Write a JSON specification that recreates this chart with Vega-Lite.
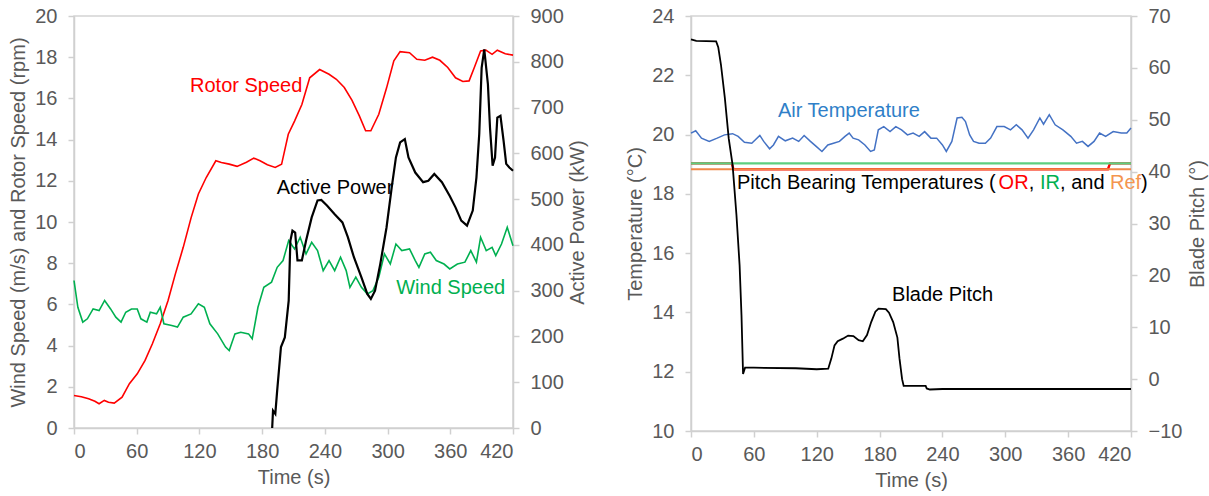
{
  "$schema": "https://vega.github.io/schema/vega-lite/v6.json",
  "background": "white",
  "padding": {"left": 8, "top": 5, "right": 2, "bottom": 0},
  "spacing": 36,
  "config": {
    "view": {"stroke": "#d4d4d4", "strokeWidth": 1.5},
    "axis": {
      "domainColor": "#d0d0d0", "domainWidth": 1.5,
      "tickColor": "#d0d0d0", "tickWidth": 1.5, "tickSize": 6,
      "labelColor": "#595959", "labelFont": "Liberation Sans", "labelFontSize": 20,
      "titleColor": "#595959", "titleFont": "Liberation Sans", "titleFontSize": 20,
      "titleFontWeight": "normal", "grid": false, "labelPadding": 11, "titlePadding": 6
    },
    "text": {"font": "Liberation Sans", "fontSize": 20, "align": "left", "baseline": "middle"}
  },
  "datasets": {
    "rotor": [
      {"t":0,"v":1.58},{"t":7,"v":1.52},{"t":14,"v":1.42},{"t":20,"v":1.3},{"t":24,"v":1.18},{"t":29,"v":1.34},{"t":33,"v":1.25},{"t":38.5,"v":1.21},{"t":46,"v":1.5},{"t":53,"v":2.15},{"t":60.5,"v":2.63},{"t":68,"v":3.28},{"t":75,"v":4.09},{"t":82.5,"v":5.06},{"t":90,"v":6.19},{"t":97,"v":7.48},{"t":104.5,"v":8.77},{"t":112,"v":10.2},{"t":119,"v":11.36},{"t":126.5,"v":12.16},{"t":135.7,"v":12.97},{"t":141,"v":12.89},{"t":148.5,"v":12.81},{"t":156,"v":12.7},{"t":165,"v":12.9},{"t":172,"v":13.1},{"t":178,"v":12.97},{"t":185,"v":12.78},{"t":192.5,"v":12.65},{"t":198.6,"v":12.8},{"t":205,"v":14.26},{"t":211,"v":14.9},{"t":218,"v":15.7},{"t":225.5,"v":17.0},{"t":235,"v":17.4},{"t":244,"v":17.17},{"t":251,"v":16.93},{"t":258.6,"v":16.53},{"t":266,"v":15.9},{"t":273,"v":15.15},{"t":279,"v":14.43},{"t":284,"v":14.43},{"t":291.6,"v":15.23},{"t":299,"v":16.5},{"t":306,"v":17.82},{"t":312,"v":18.27},{"t":321,"v":18.22},{"t":328,"v":17.9},{"t":335.6,"v":17.85},{"t":343,"v":18.0},{"t":350,"v":17.85},{"t":357.6,"v":17.5},{"t":365,"v":17.0},{"t":372,"v":16.82},{"t":378,"v":16.85},{"t":383,"v":17.5},{"t":389,"v":18.3},{"t":394,"v":18.34},{"t":400,"v":18.14},{"t":405,"v":18.34},{"t":412.6,"v":18.17},{"t":420,"v":18.1}
    ],
    "wind": [
      {"t":0,"v":7.16},{"t":3.7,"v":5.86},{"t":8.4,"v":5.14},{"t":12.8,"v":5.3},{"t":18.3,"v":5.78},{"t":24,"v":5.7},{"t":29.3,"v":6.19},{"t":35,"v":5.78},{"t":40,"v":5.38},{"t":45,"v":5.14},{"t":49.5,"v":5.62},{"t":55,"v":5.78},{"t":60.5,"v":5.78},{"t":64,"v":5.3},{"t":69.7,"v":5.14},{"t":73,"v":5.62},{"t":79,"v":5.54},{"t":82.5,"v":5.86},{"t":86,"v":5.06},{"t":93.5,"v":4.98},{"t":99,"v":4.9},{"t":104.5,"v":5.38},{"t":112,"v":5.54},{"t":119,"v":6.03},{"t":124.7,"v":5.86},{"t":130,"v":5.06},{"t":137.5,"v":4.57},{"t":145,"v":3.93},{"t":148.5,"v":3.76},{"t":154,"v":4.57},{"t":159.5,"v":4.65},{"t":167,"v":4.57},{"t":170.5,"v":4.33},{"t":176,"v":5.86},{"t":181.6,"v":6.83},{"t":189,"v":7.08},{"t":194.4,"v":7.8},{"t":200,"v":8.13},{"t":205.4,"v":9.1},{"t":211,"v":8.69},{"t":216.4,"v":9.26},{"t":222,"v":8.45},{"t":227.4,"v":9.01},{"t":233,"v":8.61},{"t":238.4,"v":7.64},{"t":244,"v":8.13},{"t":249.4,"v":7.64},{"t":255,"v":8.29},{"t":260.4,"v":7.64},{"t":264,"v":6.83},{"t":269.6,"v":7.32},{"t":275,"v":6.83},{"t":280.6,"v":6.51},{"t":286,"v":6.67},{"t":291.6,"v":7.32},{"t":297,"v":8.45},{"t":302.6,"v":7.96},{"t":308,"v":8.93},{"t":313.6,"v":8.61},{"t":321,"v":8.69},{"t":326.5,"v":8.13},{"t":330,"v":7.8},{"t":335.6,"v":8.45},{"t":341,"v":8.53},{"t":346.6,"v":8.13},{"t":354,"v":7.96},{"t":359.5,"v":7.72},{"t":366.8,"v":7.96},{"t":374,"v":8.05},{"t":379.6,"v":8.61},{"t":385,"v":8.05},{"t":389,"v":9.26},{"t":394.4,"v":8.61},{"t":400,"v":8.77},{"t":403.5,"v":8.37},{"t":409,"v":8.93},{"t":414.5,"v":9.74},{"t":420,"v":8.85}
    ],
    "power": [
      {"t":189.6,"v":0},{"t":190.4,"v":38},{"t":192.6,"v":31},{"t":194.4,"v":82},{"t":198,"v":177},{"t":201.7,"v":198},{"t":205.4,"v":278},{"t":207,"v":409},{"t":209,"v":431},{"t":211.6,"v":427},{"t":213.8,"v":366},{"t":218,"v":366},{"t":222,"v":409},{"t":227.4,"v":460},{"t":233,"v":497},{"t":236.6,"v":498},{"t":242,"v":486},{"t":249.4,"v":467},{"t":256.8,"v":449},{"t":262,"v":417},{"t":267.8,"v":373},{"t":275,"v":329},{"t":280.6,"v":293},{"t":284,"v":282},{"t":288,"v":300},{"t":293,"v":358},{"t":299,"v":438},{"t":304,"v":526},{"t":308,"v":591},{"t":312,"v":624},{"t":316.5,"v":631},{"t":320,"v":591},{"t":326.5,"v":558},{"t":334,"v":537},{"t":339,"v":540},{"t":344.7,"v":555},{"t":352,"v":537},{"t":359.5,"v":507},{"t":365,"v":482},{"t":370.5,"v":453},{"t":376,"v":442},{"t":381.5,"v":475},{"t":385,"v":547},{"t":387.7,"v":642},{"t":390,"v":787},{"t":392.5,"v":827},{"t":396,"v":751},{"t":398,"v":656},{"t":400.5,"v":573},{"t":402.8,"v":591},{"t":405,"v":678},{"t":408,"v":682},{"t":411,"v":627},{"t":413.5,"v":577},{"t":416.5,"v":569},{"t":420,"v":562}
    ],
    "leftLabels": [
      {"t":111,"v":16.6,"label":"Rotor Speed","series":"rotor"},
      {"t":193.9,"v":11.66,"label":"Active Power","series":"power"},
      {"t":308.3,"v":6.82,"label":"Wind Speed","series":"wind"}
    ],
    "air": [
      {"t":0,"v":20.05},{"t":4.5,"v":20.13},{"t":10,"v":19.88},{"t":17.4,"v":19.77},{"t":25,"v":19.88},{"t":32,"v":19.99},{"t":39.7,"v":20.03},{"t":45,"v":19.94},{"t":51,"v":19.74},{"t":58,"v":19.71},{"t":65.7,"v":19.97},{"t":69.4,"v":19.77},{"t":75,"v":19.52},{"t":78.7,"v":19.65},{"t":83.5,"v":19.94},{"t":90,"v":19.79},{"t":97,"v":19.88},{"t":102.8,"v":19.77},{"t":108,"v":19.97},{"t":114,"v":19.77},{"t":119.5,"v":19.6},{"t":125,"v":19.43},{"t":130.6,"v":19.65},{"t":136,"v":19.71},{"t":141.7,"v":19.77},{"t":147,"v":19.94},{"t":151,"v":20.05},{"t":154.7,"v":19.88},{"t":160,"v":19.82},{"t":166,"v":19.65},{"t":171.4,"v":19.43},{"t":175,"v":19.48},{"t":178.8,"v":20.16},{"t":184,"v":20.27},{"t":190,"v":20.1},{"t":195.5,"v":20.27},{"t":201,"v":20.16},{"t":206.6,"v":19.99},{"t":212,"v":20.05},{"t":217.8,"v":19.94},{"t":223,"v":20.1},{"t":229,"v":19.88},{"t":234.5,"v":19.88},{"t":240,"v":19.65},{"t":243.7,"v":19.43},{"t":249,"v":19.77},{"t":254,"v":20.56},{"t":258.6,"v":20.58},{"t":262,"v":20.44},{"t":266,"v":19.99},{"t":269.7,"v":19.77},{"t":275,"v":19.71},{"t":281,"v":19.71},{"t":286,"v":19.88},{"t":292,"v":20.27},{"t":299,"v":20.27},{"t":305,"v":20.16},{"t":310.5,"v":20.33},{"t":316,"v":20.16},{"t":321.7,"v":19.88},{"t":327,"v":20.16},{"t":333,"v":20.56},{"t":336.5,"v":20.35},{"t":342,"v":20.67},{"t":347.6,"v":20.33},{"t":355,"v":20.16},{"t":362.5,"v":19.94},{"t":368,"v":19.71},{"t":373.6,"v":19.77},{"t":379,"v":19.6},{"t":384.7,"v":19.77},{"t":390,"v":20.05},{"t":395.8,"v":19.94},{"t":403,"v":20.1},{"t":410.7,"v":20.05},{"t":416,"v":20.05},{"t":420,"v":20.22}
    ],
    "bearingOR": [
      {"t":0,"v":19.03},{"t":39,"v":19.03},{"t":40.5,"v":18.83},{"t":398,"v":18.83},{"t":400,"v":19.03},{"t":420,"v":19.03}
    ],
    "bearingIR": [
      {"t":0,"v":19.03},{"t":420,"v":19.03}
    ],
    "bearingRef": [
      {"t":0,"v":18.83},{"t":420,"v":18.83}
    ],
    "pitch": [
      {"t":0,"v":65.5},{"t":5,"v":65.2},{"t":24,"v":65.1},{"t":26,"v":64},{"t":28.6,"v":60.6},{"t":32.3,"v":54.2},{"t":36,"v":46.4},{"t":39.7,"v":41.3},{"t":43.4,"v":31.6},{"t":46.4,"v":21.9},{"t":48.2,"v":12.3},{"t":49.7,"v":1.0},{"t":51.6,"v":2.2},{"t":60,"v":2.2},{"t":100,"v":2.1},{"t":120,"v":1.9},{"t":131,"v":2.0},{"t":134,"v":4},{"t":137,"v":6.5},{"t":140,"v":7.3},{"t":145,"v":7.8},{"t":150,"v":8.4},{"t":155,"v":8.3},{"t":160,"v":7.5},{"t":164,"v":7.3},{"t":168,"v":8.5},{"t":172,"v":11},{"t":176,"v":13},{"t":179,"v":13.6},{"t":186,"v":13.5},{"t":189,"v":12.8},{"t":193,"v":11},{"t":197,"v":8},{"t":199,"v":4},{"t":201.5,"v":0},{"t":203,"v":-1.3},{"t":215,"v":-1.3},{"t":224,"v":-1.3},{"t":225,"v":-1.8},{"t":228,"v":-2.0},{"t":240,"v":-1.9},{"t":420,"v":-1.9}
    ],
    "rightLabels": [
      {"t":83,"v":20.79,"label":"Air Temperature","series":"air"},
      {"t":191.9,"v":14.6,"label":"Blade Pitch","series":"black"},
      {"t":43.9,"v":18.36,"label":"Pitch Bearing Temperatures (","series":"black"},
      {"t":293.6,"v":18.36,"label":"OR","series":"or"},
      {"t":322.4,"v":18.36,"label":", ","series":"black"},
      {"t":333.2,"v":18.36,"label":"IR","series":"ir"},
      {"t":352.3,"v":18.36,"label":", and ","series":"black"},
      {"t":400.0,"v":18.36,"label":"Ref","series":"ref"},
      {"t":429.6,"v":18.36,"label":")","series":"black"}
    ]
  },
  "hconcat": [
    {
      "width": 439,
      "height": 412,
      "layer": [
        {
          "encoding": {
            "x": {"field": "t", "type": "quantitative", "scale": {"domain": [0, 420], "nice": false},
                  "axis": {"title": "Time (s)", "values": [0,60,120,180,240,300,360,420], "labelPadding": 7, "titlePadding": 6}},
            "y": {"field": "v", "type": "quantitative", "scale": {"domain": [0, 20], "nice": false},
                  "axis": {"title": "Wind Speed (m/s) and Rotor Speed (rpm)", "values": [0,2,4,6,8,10,12,14,16,18,20]}}
          },
          "layer": [
            {"data": {"name": "rotor"}, "mark": {"type": "line", "color": "#ff0000", "strokeWidth": 1.6}},
            {"data": {"name": "wind"}, "mark": {"type": "line", "color": "#00b050", "strokeWidth": 1.6}},
            {"data": {"name": "leftLabels"}, "mark": {"type": "text"},
             "encoding": {"text": {"field": "label"},
                          "color": {"field": "series", "type": "nominal", "legend": null,
                                    "scale": {"domain": ["rotor","power","wind"], "range": ["#ff0000","#000000","#00b050"]}}}}
          ]
        },
        {
          "layer": [
            {"data": {"name": "power"}, "mark": {"type": "line", "color": "#000000", "strokeWidth": 2.2},
             "encoding": {
               "x": {"field": "t", "type": "quantitative", "scale": {"domain": [0, 420], "nice": false}, "axis": {"title": "Time (s)", "values": [0,60,120,180,240,300,360,420], "labelPadding": 7, "titlePadding": 6}},
               "y": {"field": "v", "type": "quantitative", "scale": {"domain": [0, 900], "nice": false},
                     "axis": {"title": "Active Power (kW)", "orient": "right", "values": [0,100,200,300,400,500,600,700,800,900], "titleAngle": 270, "titleBaseline": "top", "titlePadding": 4}}
             }}
          ]
        }
      ],
      "resolve": {"scale": {"y": "independent", "color": "independent"}}
    },
    {
      "width": 440,
      "height": 415,
      "layer": [
        {
          "encoding": {
            "x": {"field": "t", "type": "quantitative", "scale": {"domain": [0, 420], "nice": false},
                  "axis": {"title": "Time (s)", "values": [0,60,120,180,240,300,360,420], "labelPadding": 7, "titlePadding": 6}},
            "y": {"field": "v", "type": "quantitative", "scale": {"domain": [10, 24], "nice": false},
                  "axis": {"title": "Temperature (°C)", "values": [10,12,14,16,18,20,22,24]}}
          },
          "layer": [
            {"data": {"name": "bearingOR"}, "mark": {"type": "line", "color": "#ff0000", "strokeWidth": 2.4}},
            {"data": {"name": "bearingIR"}, "mark": {"type": "line", "color": "#5dcf7f", "strokeWidth": 2.4}},
            {"data": {"name": "bearingRef"}, "mark": {"type": "line", "color": "#f0894a", "strokeWidth": 2.2}},
            {"data": {"name": "air"}, "mark": {"type": "line", "color": "#4472c4", "strokeWidth": 1.5}},
            {"data": {"name": "rightLabels"}, "mark": {"type": "text"},
             "encoding": {"text": {"field": "label"},
                          "color": {"field": "series", "type": "nominal", "legend": null,
                                    "scale": {"domain": ["air","black","or","ir","ref"], "range": ["#2f7fc8","#000000","#ff0000","#00b050","#f4954f"]}}}}
          ]
        },
        {
          "layer": [
            {"data": {"name": "pitch"}, "mark": {"type": "line", "color": "#000000", "strokeWidth": 1.8},
             "encoding": {
               "x": {"field": "t", "type": "quantitative", "scale": {"domain": [0, 420], "nice": false}, "axis": {"title": "Time (s)", "values": [0,60,120,180,240,300,360,420], "labelPadding": 7, "titlePadding": 6}},
               "y": {"field": "v", "type": "quantitative", "scale": {"domain": [-10, 70], "nice": false},
                     "axis": {"title": "Blade Pitch (°)", "orient": "right", "values": [-10,0,10,20,30,40,50,60,70], "titleAngle": 270, "titleBaseline": "top", "titlePadding": 6}}
             }}
          ]
        }
      ],
      "resolve": {"scale": {"y": "independent", "color": "independent"}}
    }
  ]
}
